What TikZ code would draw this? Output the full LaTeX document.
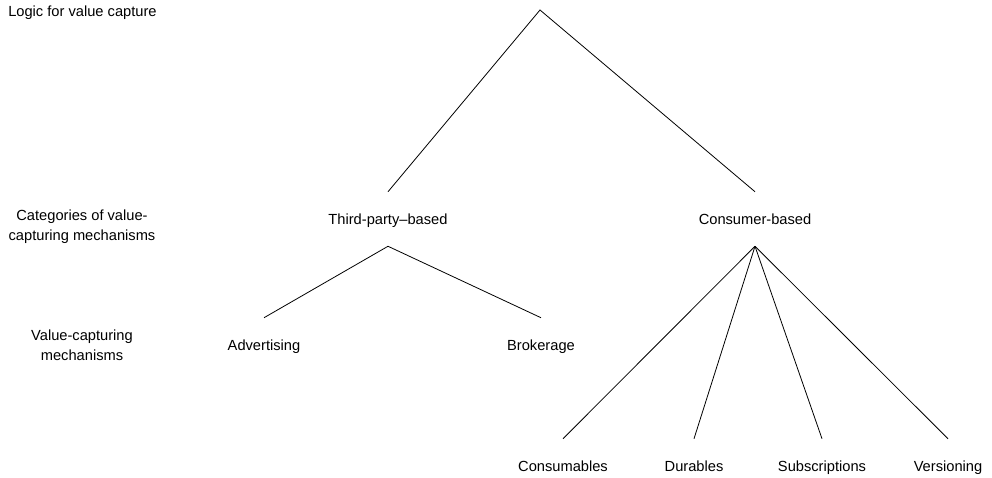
\documentclass[tikz,border=0pt]{standalone}
\usepackage{fontspec}
\setmainfont{Liberation Sans}
\usetikzlibrary{positioning}

\begin{document}
\begin{tikzpicture}[x=0.75pt,y=-0.75pt,
    lbl/.style={font=\fontsize{11}{15}\selectfont, inner sep=0pt, text height=9.5pt, text depth=1pt, minimum height=40.5pt},
    side/.style={font=\fontsize{11}{15}\selectfont, inner sep=0pt, align=center}]
      \useasboundingbox (0,0) rectangle (992,478);
      \coordinate (top) at (540,10);
      \node (third) at (388,219) [lbl] {Third-party--based};
      \node (cons) at (755,219) [lbl] {Consumer-based};
      \node (adv) at (264,345) [lbl] {Advertising};
      \node (brok) at (541,345) [lbl] {Brokerage};
      \foreach \x/\n/\t in {563/c1/Consumables,694/c2/Durables,822/c3/Subscriptions,948/c4/Versioning} {
        \node (\n) at (\x,466) [lbl] {\t};
        \draw[semithick] (cons.south) to (\n.north);
      }
      \draw[semithick] (third.north) to (top) to (cons.north);
      \draw[semithick] (adv.north) to (third.south) to (brok.north);

      \node (lev1) at (8,13) [side, anchor=west] {Logic for value capture};
      \node (lev2) at (82,227) [side] {Categories of value-\\capturing mechanisms};
      \node (lev3) at (82,345) [side] {Value-capturing\\mechanisms};
        \end{tikzpicture}
\end{document}
